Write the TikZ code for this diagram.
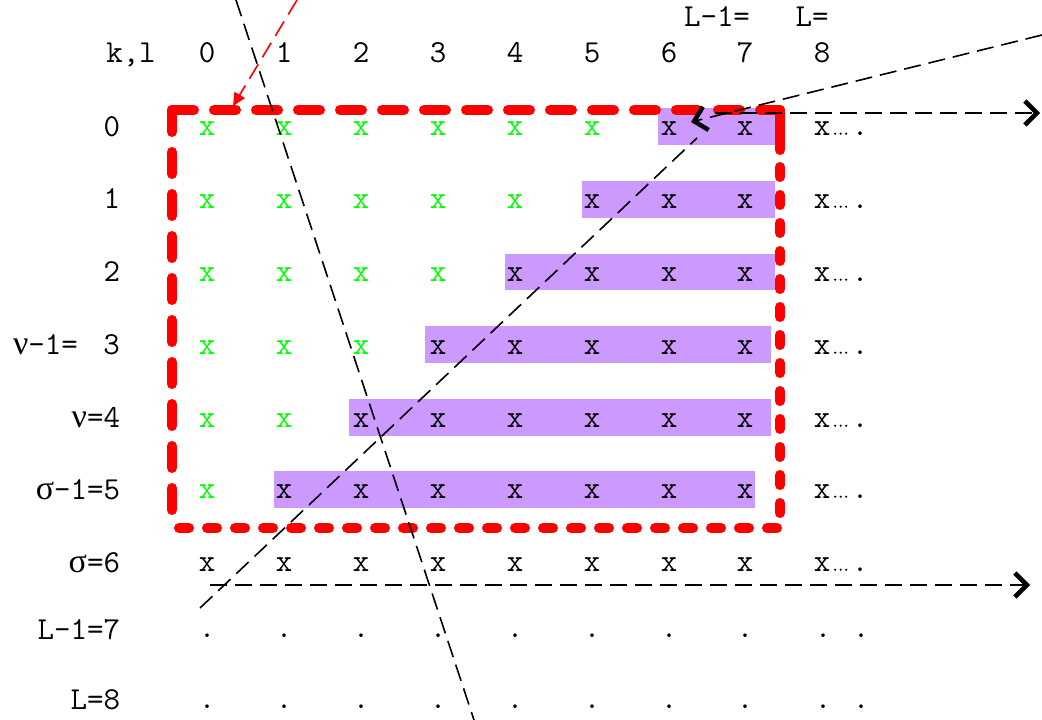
\documentclass[tikz,border=0pt]{standalone}
\usepackage{fontspec}
\newfontfamily\gr{Liberation Serif}
\usetikzlibrary{arrows.meta}
\definecolor{purp}{HTML}{CC99FF}
\definecolor{grn}{HTML}{00FF00}
\definecolor{rd}{HTML}{FF0000}
\tikzset{
  every node/.style={inner sep=0pt, outer sep=0pt, font=\ttfamily\fontsize{32}{34}\selectfont},
  txt/.style={anchor=base},
  rlab/.style={anchor=base east},
  gx/.style={anchor=base, text=grn},
  bx/.style={anchor=base, text=black},
  redtop/.style={draw=rd, line width=10pt, line cap=round, dash pattern=on 22pt off 20pt},
  redbot/.style={draw=rd, line width=10pt, line cap=round, dash pattern=on 10pt off 18pt},
  blk/.style={draw=black, line width=1.6pt, dash pattern=on 17pt off 8pt},
  barb/.style={-{Straight Barb[length=12pt,width=24pt,line width=4.5pt]}},
  redarrow/.style={draw=rd, line width=1.6pt, dash pattern=on 17pt off 8pt, -{Triangle[length=13pt,width=12pt]}}
}
\newcommand{\mydots}{\tikz[baseline=0pt]{\foreach \i in {0,5.5,11}\fill (\i pt,1.3pt) circle (1.2pt);}}
\begin{document}
\begin{tikzpicture}[x=1pt,y=-1pt]
\useasboundingbox (0,0) rectangle (1042,720);

% purple bands
\fill[purp] (658,108) rectangle (775,145);
\fill[purp] (582,181) rectangle (775,218);
\fill[purp] (505,254) rectangle (775,290);
\fill[purp] (425,326) rectangle (771,363);
\fill[purp] (349,399) rectangle (771,436);
\fill[purp] (274,471) rectangle (755,508);

% header
\node[txt] (kl) at (131,62) {k,l};
\node[txt] (Lm1) at (717,26) {L-1=};
\node[txt] (Leq) at (812,26) {L=};
\foreach \c [count=\i from 0] in {207,284,361,438,515,592,669,745,822}
  \node[txt] (c\i) at (\c,62) {\i};

% row labels
\node[rlab] (r0) at (120,136) {0};
\node[rlab] (r1) at (120,208) {1};
\node[rlab] (r2) at (120,281) {2};
\node[rlab] (r3) at (120,354) {{\gr\fontsize{34}{34}\selectfont ν}-1=\hspace{0.8em}3};
\node[rlab] (r4) at (120,427) {{\gr\fontsize{34}{34}\selectfont ν}=4};
\node[rlab] (r5) at (120,499) {{\gr\fontsize{34}{34}\selectfont σ}-1=5};
\node[rlab] (r6) at (120,572) {{\gr\fontsize{34}{34}\selectfont σ}=6};
\node[rlab] (r7) at (120,639) {L-1=7};
\node[rlab] (r8) at (120,709) {L=8};

% grid of x
\foreach \b [count=\r from 0] in {135,208,281,354,427,498} {
  \foreach \c [count=\k from 0] in {207,284,361,438,515,592,669,745} {
    \pgfmathtruncatemacro{\lim}{5-\r}
    \ifnum\k>\lim
      \node[bx] (x\r-\k) at (\c,\b) {x};
    \else
      \node[gx] (x\r-\k) at (\c,\b) {x};
    \fi
  }
  \node[bx] (e\r) at (822,\b) {x};
  \node[anchor=base west] (f\r) at (834,\b) {\mydots};
  \node[bx] (g\r) at (860,\b) {.};
}
\foreach \c [count=\k from 0] in {207,284,361,438,515,592,669,745}
  \node[bx] (x6-\k) at (\c,571) {x};
\node[bx] (e6) at (822,571) {x};
\node[anchor=base west] (f6) at (834,571) {\mydots};
\node[bx] (g6) at (860,571) {.};
\foreach \b [count=\r from 7] in {637,708} {
  \foreach \c [count=\k from 0] in {207,284,361,438,515,592,669,745,823}
    \node[bx] (d\r-\k) at (\c,\b) {.};
  \node[bx] (dd\r) at (861,\b) {.};
}

% red dashed box
\coordinate (tl) at (172,110);
\coordinate (tr) at (780,110);
\coordinate (bl) at (172,528);
\coordinate (br) at (780,528);
\coordinate (rt) at (780,150);
\coordinate (rs) at (780,167);
\draw[redtop] (tl) -- (tr);
\draw[redtop] (tl) -- (bl);
\draw[draw=rd, line width=10pt, line cap=round] (tr) -- (rt);
\draw[redbot] (rs) -- (br) -- (bl);

% black dashed lines
\coordinate (a1s) at (236,0);
\coordinate (a1e) at (474,720);
\coordinate (d2s) at (200,608);
\coordinate (d2e) at (697,138);
\coordinate (a3s) at (1042,35);
\coordinate (a3e) at (691,122);
\coordinate (h1s) at (715,113);
\coordinate (h1e) at (1040,113);
\coordinate (h2s) at (210,585);
\coordinate (h2e) at (1030,585);
\draw[blk] (a1s) -- (a1e);
\draw[blk] (d2s) -- (d2e);
\draw[blk, barb] (a3s) -- (a3e);
\draw[blk, barb] (h1s) -- (h1e);
\draw[blk, barb] (h2s) -- (h2e);

% red arrow
\coordinate (ras) at (297,0);
\coordinate (rae) at (233,106);
\draw[redarrow] (ras) -- (rae);
\end{tikzpicture}
\end{document}
